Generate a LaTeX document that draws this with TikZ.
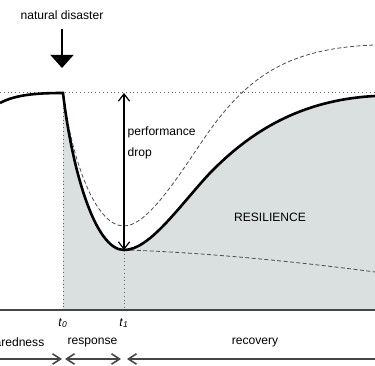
\documentclass[tikz,border=0pt]{standalone}
\usepackage{fontspec}
\setmainfont{Liberation Sans}
\usetikzlibrary{positioning, arrows.meta}
\definecolor{resgray}{RGB}{218,223,223}
\definecolor{axisgray}{RGB}{70,70,70}
\newcommand{\barb}{{Straight Barb[length=2mm,width=2.6mm]}}
\newcommand{\droparrow}{{Straight Barb[length=1.8mm,width=2.8mm]}-{Straight Barb[length=1.8mm,width=2.8mm]}}

\begin{document}
\begin{tikzpicture}[x=0.25mm, y=-0.25mm, font=\fontsize{8.6}{10}\selectfont,
    every node/.style={inner sep=1pt},
    curve/.style={line width=0.65mm},
    guide/.style={dotted, gray!80!black, line width=0.25mm},
    scenario/.style={dash pattern=on 1mm off 0.6mm, line width=0.2mm, gray!60!black},
    phase/.style={line width=0.4mm, axisgray}]
    \useasboundingbox (0,0) rectangle (375,366);
    \coordinate (start) at (0,103);
    \coordinate (t0top) at (63,93);
    \coordinate (droptop) at (124,93);
    \coordinate (t1min) at (124,250);
    \coordinate (mid) at (210,173);
    \coordinate (endmain) at (375,96);
    \coordinate (t0base) at (63,310);
    \coordinate (t1base) at (124,310);
    % resilience area
    \fill[resgray] (t0top) .. controls (72,170) and (95,250) .. (t1min)
        .. controls (150,250) and (180,205) .. (mid)
        .. controls (250,132) and (300,100) .. (endmain)
        -- (375,310) -- (t0base) -- cycle;
    % guide lines
    \draw[guide] (0,93) -- (375,93);
    \draw[guide] (t0top) -- (t0base);
    \draw[guide] (t1min) -- (t1base);
    % other scenarios
    \draw[scenario] (t0top) .. controls (72,160) and (95,226) .. (124,226)
        .. controls (150,226) and (185,165) .. (210,130)
        .. controls (250,75) and (290,48) .. (375,45);
    \draw[scenario] (t1min) .. controls (200,252) and (300,262) .. (375,272);
    % performance curve
    \draw[curve] (start) .. controls (15,95) and (35,93) .. (t0top)
        .. controls (72,170) and (95,250) .. (t1min)
        .. controls (150,250) and (180,205) .. (mid)
        .. controls (250,132) and (300,100) .. (endmain);
    \draw[phase] (0,310) -- (375,310);
    % disaster
    \node (disaster) at (62,15) {natural disaster};
    \coordinate (hit) at (62,68);
    \draw[line width=0.4mm, -{Triangle[length=3.3mm,width=5.8mm]}, shorten <=2mm] (disaster.south) -- (hit);
    % drop
    \draw[\droparrow, line width=0.3mm] (droptop) -- (t1min);
    \node[anchor=west, align=left, font=\fontsize{8.6}{14.5}\selectfont] (droplabel) at (126,143) {performance\\drop};
    \node (resilience) at (270,217) {RESILIENCE};
    % time axis
    \node (t0label) at (63,323) {\textit{t}\textsubscript{\textit{0}}};
    \node (t1label) at (124,323) {\textit{t}\textsubscript{\textit{1}}};
    \node[anchor=east] (preparedness) at (46,343) {preparedness};
    \node (response) at (92.5,343) {response};
    \node (recovery) at (255,343) {recovery};
    \coordinate (pleft) at (0,359);
    \coordinate (p0a) at (62,359);
    \coordinate (p0b) at (65,359);
    \coordinate (p1a) at (121,359);
    \coordinate (p1b) at (127,359);
    \coordinate (pright) at (375,359);
    \draw[phase, -\barb] (pleft) -- (p0a);
    \draw[phase, \barb-\barb] (p0b) -- (p1a);
    \draw[phase, \barb-] (p1b) -- (pright);
\end{tikzpicture}
\end{document}
